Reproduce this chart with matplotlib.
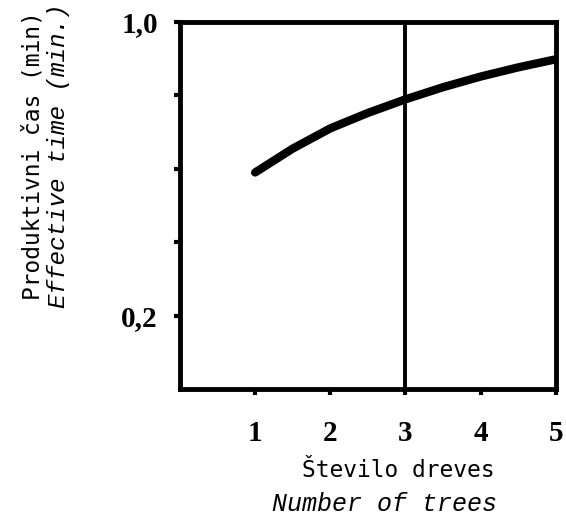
import numpy as np
import matplotlib.pyplot as plt

# Odčitane vrednosti s krivulje
stevilo_dreves = [1.0, 1.5, 2.0, 2.5, 3.0, 3.5, 4.0, 4.5, 5.0]
produktivni_cas = [0.59, 0.655, 0.71, 0.752, 0.789, 0.822, 0.851, 0.876, 0.898]
y_ticks = [0.2, 0.4, 0.6, 0.8, 1.0]
y_tick_labels = ['0,2', '', '', '', '1,0']
x_ticks = [1, 2, 3, 4, 5]
x_tick_labels = ['1', '2', '3', '4', '5']

fig = plt.figure(figsize=(5.66, 5.19), dpi=100)
ax = fig.add_axes([0.318, 0.250, 0.664, 0.708])

ax.plot(stevilo_dreves, produktivni_cas, color='black', linewidth=6, solid_capstyle='round')
ax.axvline(3, color='black', linewidth=2.8)

ax.set_xlim(0, 5)
ax.set_ylim(0, 1.0)
ax.set_xticks(x_ticks)
ax.set_xticklabels(x_tick_labels)
ax.set_yticks(y_ticks)
ax.set_yticklabels(y_tick_labels)

for sp in ax.spines.values():
    sp.set_linewidth(3.5)
ax.tick_params(axis='y', direction='out', length=4, width=3, pad=12)
ax.tick_params(axis='x', direction='out', length=4, width=3, pad=18)
for lab in ax.get_xticklabels() + ax.get_yticklabels():
    lab.set_fontfamily('Liberation Serif')
    lab.set_fontweight('bold')
    lab.set_fontsize(21)

# Oznake osi (dve vrstici)
fig.text(0.058, 0.70, 'Produktivni čas (min)', rotation=90, ha='center', va='center',
         family='DejaVu Sans Mono', fontsize=16.5)
fig.text(0.103, 0.70, 'Effective time (min.)', rotation=90, ha='center', va='center',
         family='Liberation Mono', style='italic', fontsize=17.5)
fig.text(0.703, 0.094, 'Število dreves', ha='center', va='center',
         family='DejaVu Sans Mono', fontsize=16.5)
fig.text(0.680, 0.028, 'Number of trees', ha='center', va='center',
         family='Liberation Mono', style='italic', fontsize=18)

fig.savefig('out.png', dpi=100)
